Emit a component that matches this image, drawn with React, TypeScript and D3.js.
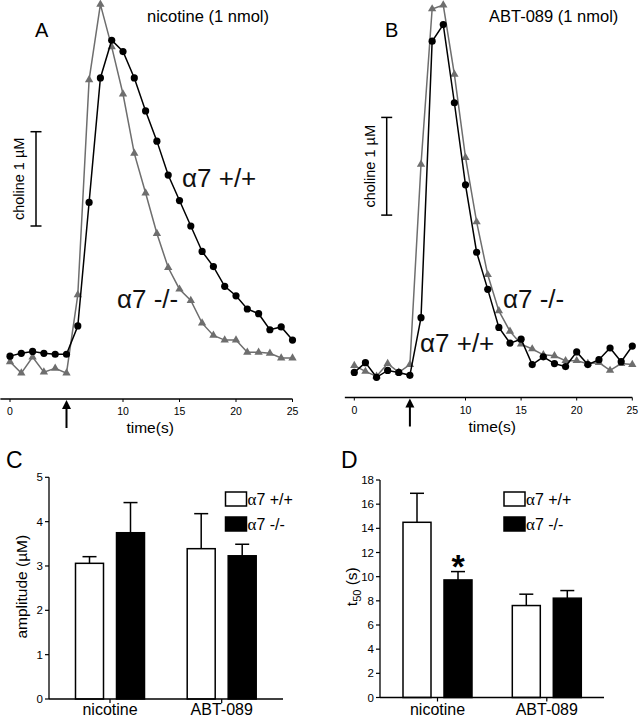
import React from 'react';
import * as d3 from 'd3';

// ---------- data ----------
const timeSec = [0, 1, 2, 3, 4, 5, 6, 7, 8, 9, 10, 11, 12, 13, 14, 15, 16, 17, 18, 19, 20, 21, 22, 23, 24, 25];
const timeTicks = [0, 10, 15, 20, 25];
const injectionTime = 5;

// choline (µM, arbitrary baseline) — panel A, nicotine
const nicotineWT = [0.2, 0.23, 0.25, 0.23, 0.22, 0.22, 0.52, 1.83, 3.15, 3.55, 3.43, 3.15, 2.8, 2.48, 2.12, 1.85, 1.58, 1.31, 1.15, 0.94, 0.84, 0.7, 0.65, 0.48, 0.51, 0.37];
const nicotineKO = [0.14, 0.02, 0.19, 0.03, 0.07, 0.02, 0.85, 3.13, 3.93, 3.48, 2.98, 2.35, 1.93, 1.5, 1.14, 0.91, 0.79, 0.55, 0.42, 0.37, 0.37, 0.24, 0.24, 0.23, 0.18, 0.18];
// panel B, ABT-089
const abtWT = [0.18, 0.28, 0.13, 0.2, 0.18, 0.15, 0.74, 3.57, 3.74, 2.94, 2.1, 1.41, 1.03, 0.64, 0.48, 0.52, 0.26, 0.34, 0.27, 0.24, 0.39, 0.26, 0.31, 0.43, 0.29, 0.45];
const abtKO = [0.25, 0.19, 0.14, 0.27, 0.18, 0.26, 2.31, 3.9, 3.94, 3.23, 2.38, 1.72, 1.18, 0.81, 0.6, 0.47, 0.42, 0.36, 0.35, 0.3, 0.3, 0.27, 0.28, 0.2, 0.27, 0.26];

const drugs = ['nicotine', 'ABT-089'];
const genotypes = ['α7 +/+', 'α7 -/-'];
const amplitudeWT = [3.06, 3.39];
const amplitudeWTsem = [0.15, 0.79];
const amplitudeKO = [3.75, 3.23];
const amplitudeKOsem = [0.68, 0.26];
const amplitudeTicks = [0, 1, 2, 3, 4, 5];
const t50WT = [14.5, 7.61];
const t50WTsem = [2.4, 0.94];
const t50KO = [9.73, 8.22];
const t50KOsem = [0.69, 0.63];
const t50Ticks = [0, 2, 4, 6, 8, 10, 12, 14, 16, 18];

const FONT = "'Liberation Sans', Arial, Helvetica, sans-serif";
const SERIF = "'Liberation Serif', 'Times New Roman', serif";
const GRAY = '#6e6e6e';

type TraceProps = {
  wt: number[]; ko: number[];
  xRange: [number, number]; yZero: number; yUnitPx: number; axisY: number;
  title: string; titleX: number; letter: string; letterX: number;
  sbX: number; sbBottom: number; sbLabelX: number;
  wtLabel: [number, number]; koLabel: [number, number];
};

function TracePanel(p: TraceProps) {
  const x = d3.scaleLinear().domain([0, 25]).range(p.xRange);
  const y = d3.scaleLinear().domain([0, 1]).range([p.yZero, p.yZero - p.yUnitPx]);
  const line = d3.line<number>().x((_, i) => x(timeSec[i])).y((d) => y(d));
  const tri = d3.symbol(d3.symbolTriangle, 30)() as string;
  const ax = p.axisY;
  const xa = x(injectionTime);
  const sbTop = y(p.sbBottom + 1);
  const sbBot = y(p.sbBottom);
  return (
    <g>
      <text x={p.letterX} y={37} fontSize={20} fontFamily={FONT}>{p.letter}</text>
      <text x={p.titleX} y={22} fontSize={16.5} fontFamily={FONT}>{p.title}</text>
      {/* scale bar */}
      <line x1={p.sbX} x2={p.sbX} y1={sbTop} y2={sbBot} stroke="#000" strokeWidth={1.5} />
      <line x1={p.sbX - 5.5} x2={p.sbX + 5.5} y1={sbTop} y2={sbTop} stroke="#000" strokeWidth={1.5} />
      <line x1={p.sbX - 5.5} x2={p.sbX + 5.5} y1={sbBot} y2={sbBot} stroke="#000" strokeWidth={1.5} />
      <text transform={`translate(${p.sbLabelX},${(sbTop + sbBot) / 2}) rotate(-90)`} textAnchor="middle" dy="0.35em" fontSize={14.5} fontFamily={FONT}>choline 1 µM</text>
      {/* KO trace (gray triangles) */}
      <path d={line(p.ko) as string} fill="none" stroke={GRAY} strokeWidth={1.5} />
      {p.ko.map((d, i) => (
        <path key={'k' + i} d={tri} transform={`translate(${x(timeSec[i])},${y(d)})`} fill={GRAY} />
      ))}
      {/* WT trace (black circles) */}
      <path d={line(p.wt) as string} fill="none" stroke="#000" strokeWidth={1.5} />
      {p.wt.map((d, i) => (
        <circle key={'w' + i} cx={x(timeSec[i])} cy={y(d)} r={3.6} fill="#000" />
      ))}
      <text x={p.wtLabel[0]} y={p.wtLabel[1]} fontSize={26} fontFamily={FONT} fill="#111">α7 +/+</text>
      <text x={p.koLabel[0]} y={p.koLabel[1]} fontSize={26} fontFamily={FONT} fill="#111">α7 -/-</text>
      {/* time axis */}
      <line x1={x(-0.85)} x2={x(25)} y1={ax} y2={ax} stroke="#000" strokeWidth={1.3} />
      {timeTicks.map((t) => (
        <g key={t}>
          <line x1={x(t)} x2={x(t)} y1={ax} y2={ax + 3} stroke="#000" strokeWidth={1} />
          <text x={x(t)} y={ax + 16} textAnchor="middle" fontSize={10.5} fontFamily={FONT}>{t}</text>
        </g>
      ))}
      <line x1={xa} x2={xa} y1={ax + 8} y2={ax + 29} stroke="#000" strokeWidth={2} />
      <path d={`M${xa},${ax + 1}L${xa + 4.5},${ax + 10}L${xa - 4.5},${ax + 10}Z`} fill="#000" />
      <text x={x(12.4)} y={ax + 34} textAnchor="middle" fontSize={15.5} fontFamily={FONT}>time(s)</text>
    </g>
  );
}

type BarProps = {
  wt: number[]; wtSem: number[]; ko: number[]; koSem: number[];
  ticks: number[]; yMax: number; yRange: [number, number];
  axisX: number; axisEnd: number; centers: [number, number];
  letter: string; letterX: number;
  ylabel: React.ReactNode; ylabelX: number;
  legendX: number; star?: boolean;
};

function BarPanel(p: BarProps) {
  const y = d3.scaleLinear().domain([0, p.yMax]).range(p.yRange);
  const xc = d3.scalePoint<string>().domain(drugs).range(p.centers);
  const inner = d3.scaleBand<string>().domain(genotypes).range([-34.5, 34.5]).paddingInner(13 / 41).paddingOuter(0);
  const bw = inner.bandwidth();
  const base = y(0);
  const series = [
    { g: genotypes[0], v: p.wt, e: p.wtSem, fill: '#fff' },
    { g: genotypes[1], v: p.ko, e: p.koSem, fill: '#000' },
  ];
  return (
    <g>
      <text x={p.letterX} y={468} fontSize={23} fontFamily={FONT}>{p.letter}</text>
      {series.map((s) =>
        drugs.map((d, i) => {
          const x0 = (xc(d) as number) + (inner(s.g) as number);
          const cx = x0 + bw / 2;
          const top = y(s.v[i]);
          const etop = y(s.v[i] + s.e[i]);
          return (
            <g key={s.g + d}>
              <line x1={cx} x2={cx} y1={top} y2={etop} stroke="#000" strokeWidth={1.5} />
              <line x1={cx - 7} x2={cx + 7} y1={etop} y2={etop} stroke="#000" strokeWidth={1.5} />
              <rect x={x0} y={top} width={bw} height={base - top} fill={s.fill} stroke="#000" strokeWidth={1.5} />
            </g>
          );
        })
      )}
      {p.star && (
        <text x={(xc(drugs[0]) as number) + (inner(genotypes[1]) as number) + bw / 2} y={y(p.ko[0] + p.koSem[0]) + 6} textAnchor="middle" fontSize={34} fontWeight="bold" fontFamily={FONT}>*</text>
      )}
      {/* y axis */}
      <line x1={p.axisX} x2={p.axisX} y1={y(0)} y2={y(p.yMax)} stroke="#000" strokeWidth={1.3} />
      {p.ticks.map((t) => (
        <g key={t}>
          <line x1={p.axisX - 4} x2={p.axisX} y1={y(t)} y2={y(t)} stroke="#000" strokeWidth={1.2} />
          <text x={p.axisX - 6} y={y(t)} dy="0.35em" textAnchor="end" fontSize={11.5} fontFamily={FONT}>{t}</text>
        </g>
      ))}
      {/* x axis */}
      <line x1={p.axisX} x2={p.axisEnd} y1={base} y2={base} stroke="#000" strokeWidth={1.3} />
      {drugs.map((d) => (
        <g key={d}>
          <line x1={xc(d) as number} x2={xc(d) as number} y1={base} y2={base + 4} stroke="#000" strokeWidth={1.2} />
          <text x={xc(d) as number} y={715} textAnchor="middle" fontSize={16} fontFamily={FONT}>{d}</text>
        </g>
      ))}
      <text transform={`translate(${p.ylabelX},${586.7}) rotate(-90)`} textAnchor="middle" dy="0.35em" fontSize={15.5} fontFamily={FONT}>{p.ylabel}</text>
      {/* legend */}
      {genotypes.map((g, i) => (
        <g key={g}>
          <rect x={p.legendX} y={492 + i * 25} width={21} height={14} fill={i === 0 ? '#fff' : '#000'} stroke="#000" strokeWidth={1.5} />
          <text x={p.legendX + 22} y={499 + i * 25} dy="0.35em" fontSize={16} fontFamily={FONT}>
            <tspan fontFamily={SERIF} fontSize={17}>α</tspan>{g.slice(1)}
          </text>
        </g>
      ))}
    </g>
  );
}

export default function App() {
  return (
    <svg width={640} height={719} style={{ position: 'absolute', left: 0, top: 0, background: '#fff' }}>
      <rect x={0} y={0} width={640} height={719} fill="#fff" />
      <TracePanel
        wt={nicotineWT} ko={nicotineKO}
        xRange={[10, 292.5]} yZero={375} yUnitPx={94.3} axisY={399}
        title="nicotine (1 nmol)" titleX={147} letter="A" letterX={35}
        sbX={36} sbBottom={1.58} sbLabelX={19}
        wtLabel={[182, 187]} koLabel={[117, 308]}
      />
      <TracePanel
        wt={abtWT} ko={abtKO}
        xRange={[354.3, 632.3]} yZero={390} yUnitPx={97.7} axisY={397.5}
        title="ABT-089 (1 nmol)" titleX={489} letter="B" letterX={385}
        sbX={386.7} sbBottom={1.79} sbLabelX={370}
        wtLabel={[420, 352]} koLabel={[503, 308]}
      />
      <BarPanel
        wt={amplitudeWT} wtSem={amplitudeWTsem} ko={amplitudeKO} koSem={amplitudeKOsem}
        ticks={amplitudeTicks} yMax={5} yRange={[699, 477.3]}
        axisX={49} axisEnd={283} centers={[110, 221.7]}
        letter="C" letterX={6}
        ylabel="amplitude (µM)" ylabelX={22}
        legendX={225.5}
      />
      <BarPanel
        wt={t50WT} wtSem={t50WTsem} ko={t50KO} koSem={t50KOsem}
        ticks={t50Ticks} yMax={18} yRange={[697.5, 480]}
        axisX={380} axisEnd={604} centers={[437.5, 546.8]}
        letter="D" letterX={341}
        ylabel={<><tspan>t</tspan><tspan fontSize={11} dy="4">50</tspan><tspan dy="-4"> (s)</tspan></>}
        ylabelX={352}
        legendX={504} star
      />
    </svg>
  );
}
